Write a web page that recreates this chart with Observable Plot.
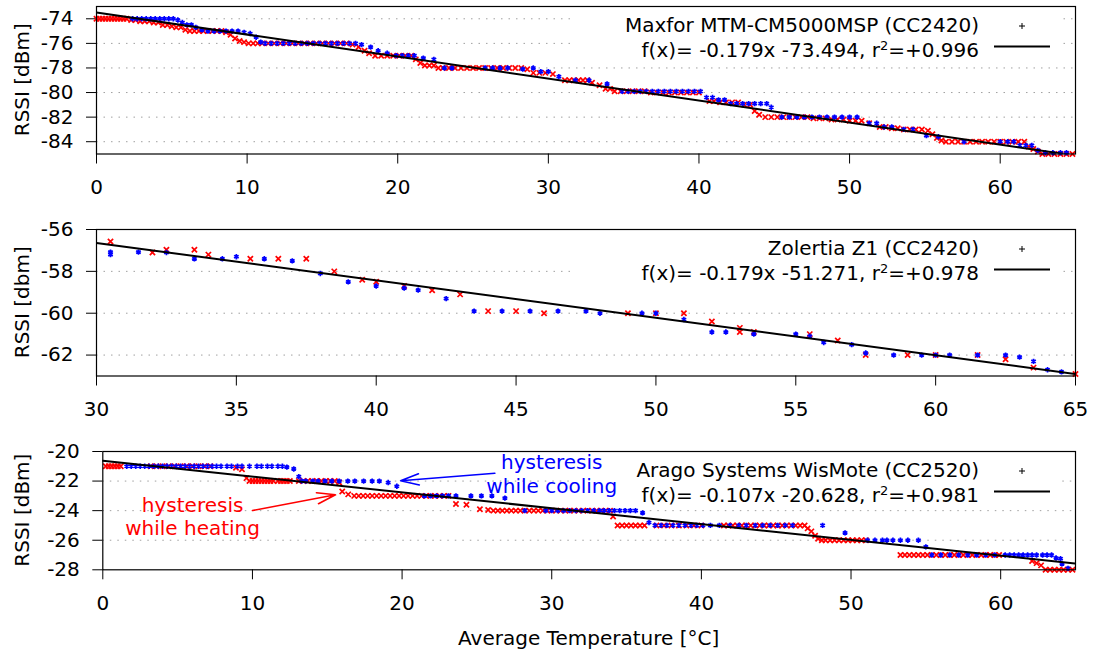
<!DOCTYPE html>
<html>
<head>
<meta charset="utf-8">
<script src="https://cdn.jsdelivr.net/npm/d3@7"></script>
<script src="https://cdn.jsdelivr.net/npm/@observablehq/plot@0.6"></script>
<style>
  html, body { margin: 0; padding: 0; background: #fff; }
  #chart { width: 1093px; height: 652px; overflow: hidden; }
  #chart svg { display: block; }
</style>
</head>
<body>
<div id="chart"></div>
<script>
// ---------------- DATA ----------------
// Runs are [RSSI, [temperatures...]]

// Panel 1: Maxfor MTM-CM5000MSP (CC2420)
const maxforHeating = [
  [-74, [0, 0.2, 0.4, 0.6, 0.8, 1.0, 1.2, 1.4, 1.6, 1.8, 2.0]],
  [-74.1, [2.3, 2.6]], [-74.2, [2.9, 3.2, 3.5]], [-74.3, [3.8, 4.1]],
  [-74.5, [4.4, 4.7]], [-74.6, [5.0]], [-74.7, [5.3, 5.6]], [-74.9, [5.9]],
  [-75, [6.2, 6.5, 6.8, 7.1, 7.4, 7.7, 8.0, 8.3]],
  [-75.1, [8.6]], [-75.3, [8.9]], [-75.6, [9.2]], [-75.8, [9.5]], [-75.9, [9.8]],
  [-76, [10.1, 10.4, 10.7, 11.0, 11.4, 11.8, 12.2, 12.6, 13.0, 13.4, 13.8, 14.2, 14.6, 15.0, 15.4, 15.8, 16.2, 16.6]],
  [-76.1, [17.0]], [-76.3, [17.4]], [-76.6, [17.8]], [-76.8, [18.1]],
  [-77, [18.5, 18.9, 19.3, 19.7, 20.1, 20.5, 20.9]],
  [-77.3, [21.2]], [-77.6, [21.5]], [-77.8, [21.8, 22.1, 22.4]],
  [-78, [22.7, 23.0, 23.4, 23.8, 24.2, 24.6, 25.0, 25.4, 25.8, 26.2, 26.6, 27.0, 27.4, 27.8, 28.2]],
  [-78.1, [28.6]], [-78.4, [29.0, 29.4, 29.8]], [-78.5, [30.3]],
  [-79, [31.1, 31.4, 31.7, 32.0, 32.3, 32.6]],
  [-79.2, [32.9]], [-79.4, [33.4]], [-79.7, [33.8, 34.1]],
  [-79.9, [34.4, 34.8, 35.2, 35.6, 36.0, 36.4]],
  [-80, [36.8, 37.2, 37.6, 38.0, 38.4, 38.8, 39.2, 39.6, 40.0]],
  [-80.7, [40.7, 41.0]], [-80.8, [41.4, 41.8, 42.2, 42.6]], [-81, [43.0, 43.4]],
  [-81.5, [43.7]], [-81.8, [44.0]],
  [-82, [44.4, 44.8, 45.2, 45.6, 46.0, 46.4, 46.8, 47.2]],
  [-82.1, [47.6, 48.0, 48.4]], [-82.2, [48.8, 49.2, 49.6]], [-82.3, [50.0, 50.4, 50.8]],
  [-82.5, [51.3]], [-82.8, [52.0, 52.4]], [-82.9, [52.8, 53.2]],
  [-83, [53.6, 54.0, 54.4, 54.8]], [-83.1, [55.2]], [-83.4, [55.5]], [-83.7, [55.8]], [-83.9, [56.1]],
  [-84, [56.4, 56.8, 57.2, 57.6, 58.0, 58.4, 58.8, 59.2, 59.6, 60.0, 60.4, 60.8, 61.2, 61.6]],
  [-84.4, [61.9]], [-84.6, [62.2]], [-84.8, [62.5]],
  [-85, [62.8, 63.2, 63.6, 64.0, 64.4, 64.8]]
];
const maxforCooling = [
  [-74, [2.4, 2.7, 3.0, 3.3, 3.6, 3.9, 4.2, 4.5, 4.8, 5.1]],
  [-74.1, [5.4]], [-74.3, [5.7]], [-74.5, [6.0, 6.3]], [-74.7, [6.6]], [-74.9, [7.0]],
  [-75, [7.4, 7.8, 8.2, 8.6, 9.0, 9.4]],
  [-75.1, [9.8]], [-75.2, [10.2]], [-75.5, [10.6]], [-75.9, [10.9]],
  [-76, [11.2, 11.6, 12.0, 12.4, 12.8, 13.2, 13.6, 14.0, 14.4, 14.8, 15.2, 15.6, 16.0, 16.4, 16.8, 17.2]],
  [-76.1, [17.6]], [-76.3, [18.2]], [-76.6, [18.7]], [-76.8, [19.3]],
  [-77, [19.9, 20.3, 20.7, 21.1]],
  [-77.2, [21.7]], [-77.3, [22.4]],
  [-78, [23.1, 23.6, 25.8, 26.3, 26.8, 27.3, 29.0]],
  [-78.1, [28.3]],
  [-78.3, [29.5, 30.0]], [-78.7, [30.7]], [-79, [31.8, 32.7]], [-79.3, [33.9]],
  [-79.9, [34.9, 35.3, 35.7, 36.1, 36.5, 36.9, 37.3, 37.7, 38.1, 38.5, 38.9, 39.3, 39.7, 40.1]],
  [-80.4, [40.5, 40.9]], [-80.6, [41.3, 41.7]],
  [-80.9, [42.1, 42.5, 42.9, 43.3, 43.7, 44.1, 44.5]],
  [-81.2, [44.8]],
  [-82, [45.5, 46.0, 46.5, 47.0, 47.5, 48.0, 48.5, 49.0, 49.5, 50.0, 50.5]],
  [-82.5, [51.3, 51.8]], [-82.8, [52.3, 52.8]], [-83, [53.6, 54.2]], [-83.5, [55.1]], [-83.6, [55.9]],
  [-84, [57.6, 60.0, 60.5, 60.9]],
  [-84.3, [61.3, 61.7, 62.1]], [-84.7, [62.5]],
  [-84.9, [63.0, 63.5, 64.0, 64.4]]
];

// Panel 2: Zolertia Z1 (CC2420) — [temperature, RSSI]
const z1Heating = [
  [30.5, -56.57], [32.0, -57.1], [32.5, -56.97], [33.5, -56.97], [34.0, -57.2], [35.5, -57.4],
  [36.5, -57.4], [37.5, -57.4], [38.5, -58.0], [39.5, -58.4], [40.0, -58.5], [41.0, -58.7],
  [42.0, -58.9], [43.0, -59.1], [44.0, -59.9], [45.0, -59.9], [46.0, -60.0], [49.0, -60.0],
  [50.0, -60.0], [51.0, -60.0], [52.0, -60.4], [53.0, -60.7], [53.0, -60.9], [53.5, -60.9],
  [55.5, -61.0], [56.5, -61.3], [57.5, -62.0], [59.0, -62.0], [60.0, -62.0], [61.5, -62.0],
  [62.5, -62.2], [63.5, -62.6], [65.0, -62.9]
];
const z1Cooling = [
  [30.5, -57.08], [30.5, -57.2], [31.5, -57.08], [32.5, -57.1], [33.5, -57.4], [34.5, -57.4],
  [35.0, -57.3], [36.0, -57.4], [37.0, -57.5], [38.0, -58.1], [39.0, -58.5], [40.0, -58.7],
  [41.0, -58.8], [41.5, -58.9], [42.5, -59.3], [43.5, -59.9], [44.5, -59.9], [45.5, -59.9],
  [46.5, -59.9], [47.5, -59.9], [48.0, -60.0], [49.5, -60.0], [50.0, -60.0], [51.0, -60.3],
  [52.0, -60.9], [52.5, -60.9], [53.5, -61.0], [55.0, -61.0], [55.5, -61.1], [56.0, -61.4],
  [57.0, -61.5], [57.5, -61.9], [58.5, -62.0], [59.5, -62.0], [60.0, -62.0], [60.5, -62.0],
  [61.5, -62.0], [62.5, -62.0], [63.0, -62.1], [63.5, -62.3], [64.0, -62.7], [64.5, -62.8]
];

// Panel 3: Arago Systems WisMote (CC2520)
const wisHeating = [
  [-21, [0.2, 0.4, 0.6, 0.8, 1.0, 1.2, 3.2, 3.6, 4.0, 4.4, 4.8, 5.2, 5.6, 6.0, 6.4, 6.8, 7.2]],
  [-21.1, [8.9]], [-21.2, [9.3]], [-21.8, [9.6]],
  [-22, [9.8, 10.0, 10.2, 10.4, 10.6, 10.8, 11.0, 11.2, 11.4, 11.7, 11.9, 12.1, 12.3, 12.5, 13.1, 13.4, 13.7, 14.0, 14.3, 14.6, 14.9, 15.2, 15.5]],
  [-22.1, [15.8]], [-22.7, [16.0]], [-22.9, [16.4]],
  [-23, [16.8, 17.1, 17.4, 17.7, 18.0, 18.3, 18.6, 18.9, 19.2, 19.5, 19.8, 20.1, 20.4, 20.7, 21.0, 21.3, 21.6, 21.9, 22.2, 22.5, 22.8, 23.1]],
  [-23.55, [23.6]], [-23.6, [24.3]], [-23.9, [25.2]], [-23.95, [25.75]],
  [-24, [26.1, 26.4, 26.7, 27.0, 27.3, 27.6, 27.9, 28.2, 28.5, 28.8, 29.1, 29.4, 29.7, 30.0, 30.3, 30.6, 30.9, 31.2, 31.5, 31.8, 32.1, 32.4, 32.7, 33.0, 33.3, 33.6, 33.9]],
  [-24.4, [34.1]],
  [-25, [34.4, 34.7, 35.0, 35.3, 35.6, 35.9, 36.2, 37.0, 37.5, 38.0, 38.5, 39.0, 39.5, 40.0, 41.5, 41.8, 42.1, 42.4, 42.7, 43.0, 43.3, 43.6, 43.9, 44.2, 44.5, 44.8, 45.1, 45.4, 45.7, 46.0, 46.3, 46.6, 46.9]],
  [-25.2, [47.1]], [-25.4, [47.35]], [-25.7, [47.6]], [-25.9, [47.8]],
  [-26, [48.05, 48.3, 48.6, 48.9, 49.2, 49.5, 49.8, 50.1, 50.4, 50.7, 51.0]],
  [-27, [53.3, 53.6, 53.9, 54.2, 54.5, 54.8, 55.1, 55.4, 55.7, 56.0, 56.3, 56.6, 56.9, 57.2, 57.5, 57.8, 58.1, 58.4, 58.7, 59.0, 59.3, 59.6, 59.9]],
  [-27.4, [62.1]], [-27.55, [62.4]], [-27.7, [62.7]],
  [-28, [63.0, 63.3, 63.6, 63.9, 64.2, 64.5, 64.8]]
];
const wisCooling = [
  [-21, [1.6, 1.9, 2.2, 2.5, 2.8, 3.1, 3.4, 3.7, 4.0, 4.3, 4.6, 4.9, 5.2, 5.5, 5.8, 6.1, 6.4, 6.7, 7.0, 7.3, 7.6, 7.9, 8.3, 8.6, 9.0, 9.3, 9.8, 10.3, 10.6, 11.0, 11.3, 11.7, 12.0]],
  [-21.06, [12.3]], [-21.18, [12.76]], [-21.7, [13.1]],
  [-22, [13.3, 13.56, 14.03, 14.38, 14.85, 15.3, 15.8, 16.37, 16.84, 17.43, 18.0, 18.48]],
  [-22.1, [19.07]], [-22.35, [19.65]],
  [-23, [21.5, 21.9, 22.3, 22.7, 23.1, 23.6, 24.6, 25.3, 26.0]],
  [-23.15, [26.87]],
  [-24, [28.2, 29.6, 30.0, 30.4, 30.8, 31.2, 31.6, 32.0, 32.4, 32.8, 33.2, 33.5, 33.84, 34.19, 34.54, 34.9, 35.25, 35.6]],
  [-24.15, [36.07]], [-24.8, [36.5]],
  [-25, [36.9, 37.3, 37.7, 38.1, 38.5, 38.9, 39.3, 39.7, 40.1, 40.6, 41.2, 41.9, 42.5, 43.0, 43.6, 44.1, 44.6, 45.1, 45.6, 46.1, 48.1]],
  [-25.5, [49.6]],
  [-26, [51.1, 51.6, 52.1, 52.4, 52.8, 53.3, 53.8, 54.5]],
  [-26.45, [55.0]],
  [-27, [55.4, 56.0, 56.6, 57.2, 57.8, 58.4, 59.0, 59.6, 60.3, 60.6, 60.9, 61.2, 61.5, 61.8, 62.1, 62.4, 62.8, 63.1, 63.4]],
  [-27.2, [63.7]], [-27.25, [64.0]], [-27.6, [64.1]], [-27.9, [64.5]]
];

// Linear fits (end points of f(x) over the plotted range)
const maxforFit = [[0, -73.494], [65, -85.129]];
const z1Fit = [[30, -56.641], [65, -62.906]];
const wisFit = [[0, -20.628], [65, -27.583]];

// Legend texts
const deviceNames = ["Maxfor MTM-CM5000MSP (CC2420)", "Zolertia Z1 (CC2420)", "Arago Systems WisMote (CC2520)"];
const fitTexts = ["f(x)= -0.179x -73.494, r", "f(x)= -0.179x -51.271, r", "f(x)= -0.107x -20.628, r"];
const r2Texts = ["=+0.996", "=+0.978", "=+0.981"];
const yLabels = ["RSSI [dBm]", "RSSI [dbm]", "RSSI [dBm]"];
const xLabel = "Average Temperature [°C]";

// Tick values
const xTicksFull = [0, 10, 20, 30, 40, 50, 60];
const xTicksZ1 = [30, 35, 40, 45, 50, 55, 60, 65];
const yTicksMaxfor = [-74, -76, -78, -80, -82, -84];
const yTicksZ1 = [-56, -58, -60, -62];
const yTicksWis = [-20, -22, -24, -26, -28];

// Hysteresis annotations (WisMote panel)
const notes = [
  {x: 30, y: -21.48, text: "hysteresis\nwhile cooling", color: "blue"},
  {x: 6, y: -24.35, text: "hysteresis\nwhile heating", color: "red"}
];
const noteArrows = [
  {x1: 26.2, y1: -21.47, x2: 19.9, y2: -21.98, color: "blue"},
  {x1: 10.0, y1: -23.99, x2: 15.55, y2: -22.93, color: "red"}
];

// ---------------- DRAWING ----------------
const W = 1093, MR = 18;
const FONT = "DejaVu Sans";
const runsToPts = runs => runs.flatMap(([y, xs]) => xs.map(x => ({x, y})));
const pairsToPts = pairs => pairs.map(([x, y]) => ({x, y}));

const panels = [
  {height: 205, top: 6, bottom: 51.5, left: 96, xDomain: [0, 65], xTicks: xTicksFull,
   yDomain: [-85, -73], yTicks: yTicksMaxfor, grid: yTicksMaxfor,
   heat: runsToPts(maxforHeating), cool: runsToPts(maxforCooling), fit: pairsToPts(maxforFit)},
  {height: 225, top: 24, bottom: 54.5, left: 96, xDomain: [30, 65], xTicks: xTicksZ1,
   yDomain: [-63, -56], yTicks: yTicksZ1, grid: yTicksZ1.slice(1),
   heat: pairsToPts(z1Heating), cool: pairsToPts(z1Cooling), fit: pairsToPts(z1Fit)},
  {height: 222, top: 21, bottom: 82.7, left: 102.3, xDomain: [0, 65], xTicks: xTicksFull,
   yDomain: [-28, -20], yTicks: yTicksWis, grid: yTicksWis.slice(1, -1),
   heat: runsToPts(wisHeating), cool: runsToPts(wisCooling), fit: pairsToPts(wisFit), notes: true}
];

const container = document.getElementById("chart");
const fmt = d => String(d);

panels.forEach((p, i) => {
  const marks = [
    Plot.ruleY(p.grid, {stroke: "#a0a0a0", strokeWidth: 1, strokeDasharray: "1.5,6"}),
    Plot.dot(p.heat, {x: "x", y: "y", symbol: "times", r: 2.5, stroke: "#ff0000", fill: "none", strokeWidth: 1.7}),
    Plot.dot(p.cool, {x: "x", y: "y", symbol: "asterisk", r: 2.5, stroke: "#0000ff", fill: "none", strokeWidth: 1.7}),
    Plot.line(p.fit, {x: "x", y: "y", stroke: "black", strokeWidth: 2, clip: true}),
    Plot.frame({stroke: "black", strokeWidth: 1.2})
  ];
  if (p.notes) {
    marks.push(
      Plot.arrow(noteArrows, {x1: "x1", y1: "y1", x2: "x2", y2: "y2", stroke: "color",
        strokeWidth: 1.6, headLength: 18, headAngle: 34}),
      Plot.text(notes, {x: "x", y: "y", text: "text", fill: "color", fontSize: 20,
        lineHeight: 1.2, textAnchor: "middle", lineAnchor: "middle"})
    );
  }
  const svg = Plot.plot({
    width: W,
    height: p.height,
    marginLeft: p.left,
    marginRight: MR,
    marginTop: p.top,
    marginBottom: p.bottom,
    style: {fontFamily: FONT, fontSize: "20px", color: "black", background: "white", overflow: "visible"},
    color: {type: "identity"},
    x: {domain: p.xDomain, ticks: p.xTicks, tickFormat: fmt, label: null, tickSize: 10, tickPadding: 16},
    y: {domain: p.yDomain, ticks: p.yTicks, tickFormat: fmt, label: null, tickSize: 10, tickPadding: 13},
    marks
  });
  container.appendChild(svg);

  const s = d3.select(svg);
  const right = W - MR;
  const top = p.top;
  const plotBottom = p.height - p.bottom;

  // opaque key box placed just above the grid lines
  const gridG = svg.querySelector('g[aria-label="rule"]');
  const box = document.createElementNS("http://www.w3.org/2000/svg", "rect");
  box.setAttribute("x", 573);
  box.setAttribute("y", top + 1);
  box.setAttribute("width", right - 17 - 573);
  box.setAttribute("height", 53);
  box.setAttribute("fill", "white");
  if (gridG) gridG.after(box);

  // key text
  s.append("text")
    .attr("x", right - 96).attr("y", top + 19 + 7.2)
    .attr("text-anchor", "end").attr("font-family", FONT).attr("font-size", 20).attr("fill", "black")
    .text(deviceNames[i]);
  const t2 = s.append("text")
    .attr("x", right - 96).attr("y", top + 43.5 + 7.2)
    .attr("text-anchor", "end").attr("font-family", FONT).attr("font-size", 20).attr("fill", "black");
  t2.append("tspan").text(fitTexts[i]);
  t2.append("tspan").attr("font-size", 13).attr("dy", -7).text("2");
  t2.append("tspan").attr("font-size", 20).attr("dy", 7).text(r2Texts[i]);

  // key samples: point symbol and fit line
  s.append("path")
    .attr("d", `M${right - 56},${top + 20}h6M${right - 53},${top + 17}v6`)
    .attr("stroke", "black").attr("stroke-width", 1);
  s.append("line")
    .attr("x1", right - 81).attr("x2", right - 25)
    .attr("y1", top + 40.5).attr("y2", top + 40.5)
    .attr("stroke", "black").attr("stroke-width", 2);

  // y axis title
  s.append("text")
    .attr("transform", `translate(22,${(top + plotBottom) / 2}) rotate(-90)`)
    .attr("dy", "0.36em").attr("text-anchor", "middle")
    .attr("font-family", FONT).attr("font-size", 20).attr("fill", "black")
    .text(yLabels[i]);

  if (i === panels.length - 1) {
    s.append("text")
      .attr("x", (p.left + right) / 2).attr("y", plotBottom + 68.7)
      .attr("dy", "0.36em").attr("text-anchor", "middle")
      .attr("font-family", FONT).attr("font-size", 20).attr("fill", "black")
      .text(xLabel);
  }
});
</script>
</body>
</html>
